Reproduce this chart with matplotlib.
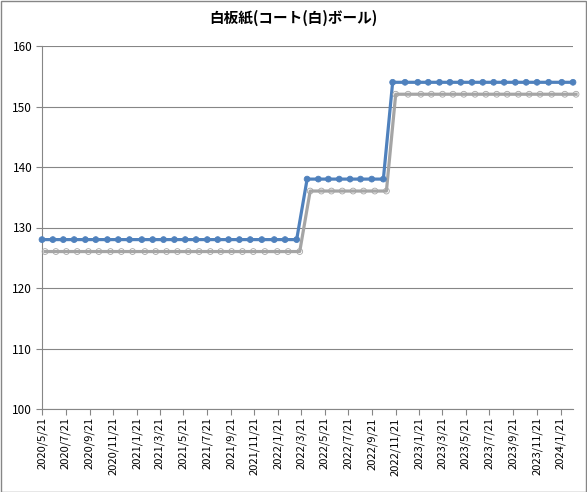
import matplotlib
matplotlib.use("Agg")
import matplotlib.pyplot as plt
import matplotlib.patheffects as pe
import pandas as pd

plt.rcParams['font.family'] = ['Noto Sans CJK JP', 'DejaVu Sans']

# sample dates
dates = [
    "2020-05-21", "2020-06-18", "2020-07-15", "2020-08-12", "2020-09-10",
    "2020-10-07", "2020-11-06", "2020-12-04", "2021-01-02", "2021-02-03",
    "2021-03-03", "2021-03-31", "2021-04-28", "2021-05-26", "2021-06-23",
    "2021-07-22", "2021-08-18", "2021-09-15", "2021-10-13", "2021-11-10",
    "2021-12-10", "2022-01-11", "2022-02-08", "2022-03-10",
    "2022-04-06", "2022-05-05", "2022-05-31", "2022-06-28", "2022-07-26",
    "2022-08-22", "2022-09-20", "2022-10-20",
    "2022-11-13", "2022-12-15", "2023-01-17", "2023-02-13", "2023-03-14",
    "2023-04-10", "2023-05-08", "2023-06-06", "2023-07-04", "2023-08-01",
    "2023-08-28", "2023-09-26", "2023-10-24", "2023-11-21", "2023-12-21",
    "2024-01-24", "2024-02-22",
]
prices = [128] * 24 + [138] * 8 + [154] * 17

tick_labels = [
    "2020/5/21", "2020/7/21", "2020/9/21", "2020/11/21", "2021/1/21",
    "2021/3/21", "2021/5/21", "2021/7/21", "2021/9/21", "2021/11/21",
    "2022/1/21", "2022/3/21", "2022/5/21", "2022/7/21", "2022/9/21",
    "2022/11/21", "2023/1/21", "2023/3/21", "2023/5/21", "2023/7/21",
    "2023/9/21", "2023/11/21", "2024/1/21",
]
y_ticks = [100, 110, 120, 130, 140, 150, 160]

title = "白板紙(コート(白)ボール)"


def main():
    x = pd.to_datetime(dates)
    ticks = pd.to_datetime(tick_labels, format="%Y/%m/%d")

    fig = plt.figure(figsize=(5.87, 4.92), dpi=100)
    ax = fig.add_axes([42 / 587, 1 - 409 / 492, (573 - 42) / 587, (409 - 46) / 492])

    # excel-style drop shadow under the line
    shadow = [pe.SimpleLineShadow(offset=(2.2, -8.6), shadow_color="#a5a5a5", alpha=1.0), pe.Normal()]
    ax.plot(x, prices, color="#4f81bd", linewidth=2.3, marker="o", markersize=4.2,
            markeredgewidth=0.6, markeredgecolor="#4f81bd", clip_on=False, zorder=3,
            path_effects=shadow)

    ax.set_ylim(100, 160)
    ax.set_yticks(y_ticks)
    ax.set_xlim(x[0], x[-1])
    ax.set_xticks(ticks)
    ax.set_xticklabels(tick_labels, rotation=90, fontsize=8)
    ax.tick_params(axis="y", labelsize=8.5, length=4, color="#868686", pad=3)
    ax.tick_params(axis="x", length=4, color="#868686", pad=2)

    ax.grid(axis="y", color="#868686", linewidth=0.8)
    ax.set_axisbelow(True)
    for s in ["top", "right"]:
        ax.spines[s].set_visible(False)
    for s in ["left", "bottom"]:
        ax.spines[s].set_color("#868686")
        ax.spines[s].set_linewidth(0.8)

    fig.text(0.5, 1 - 18 / 492, title, ha="center", va="center", fontsize=10.5, fontweight="bold")
    fig.patches.append(plt.Rectangle((0.001, 0.001), 0.997, 0.997, transform=fig.transFigure,
                                     fill=False, edgecolor="#868686", linewidth=1))

    fig.savefig("out.png", dpi=100)


if __name__ == '__main__':
    main()
